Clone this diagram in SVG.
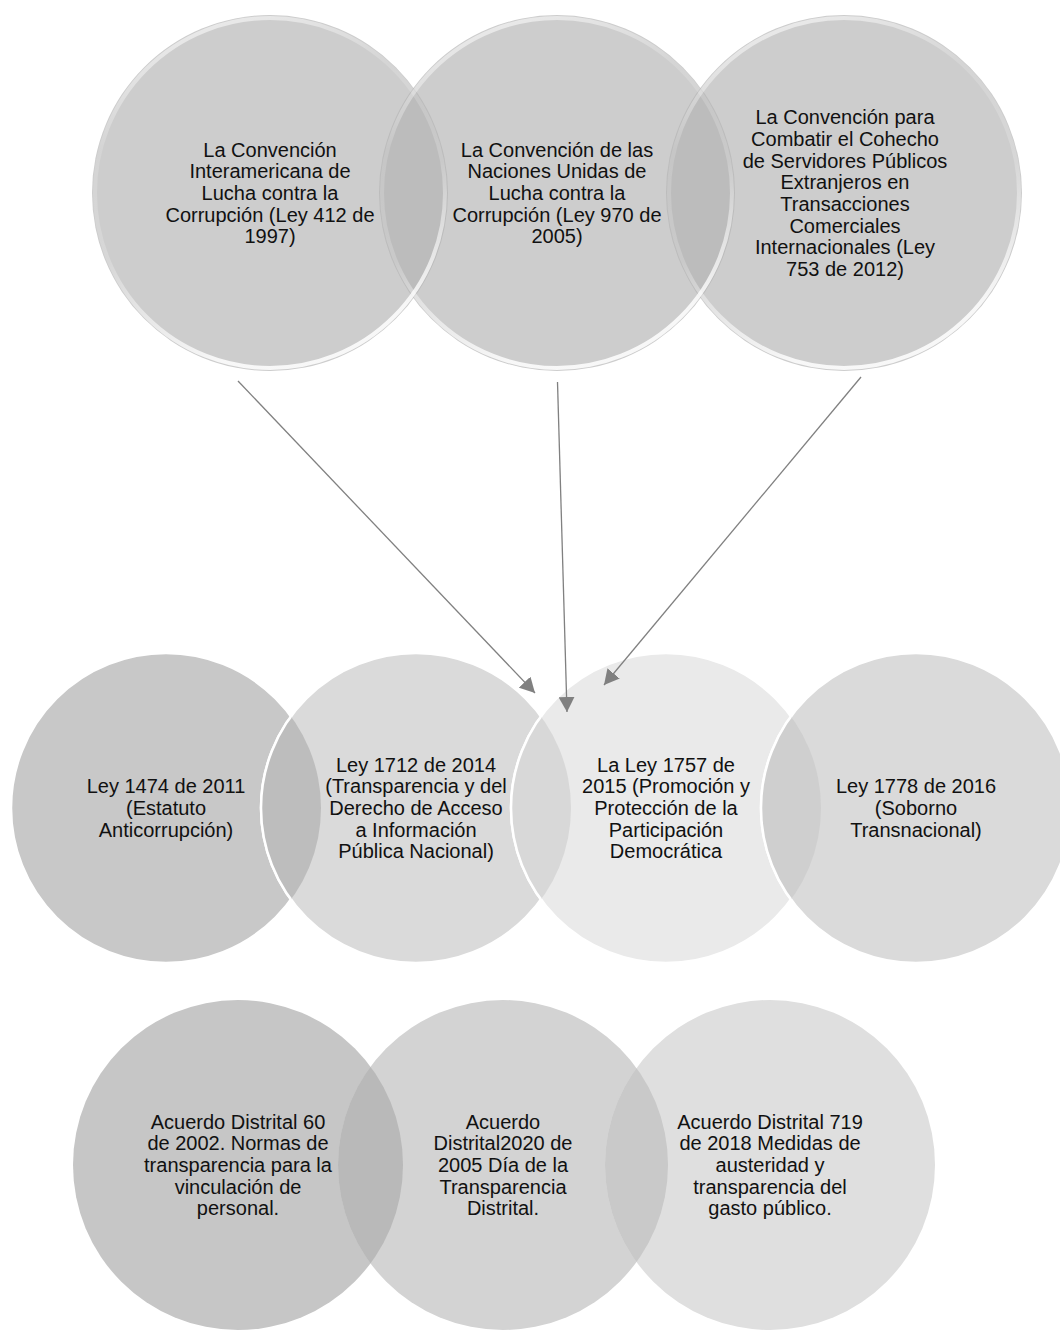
<svg xmlns="http://www.w3.org/2000/svg" width="1060" height="1338" viewBox="0 0 1060 1338">
  <style>
    text { font-family: "Liberation Sans", Arial, sans-serif; font-size: 20px; fill: #111; text-anchor: middle; }
    .top { fill: #cdcdcd; }
    .topLens { fill: #bcbcbc; }
    .rim { fill: none; stroke: url(#rimGrad); stroke-width: 4; }
    .mid { stroke: #ffffff; stroke-width: 2.5; }
    .conn { stroke: #808080; stroke-width: 1.3; fill: none; marker-end: url(#arrow); }
  </style>
  <defs>
    <linearGradient id="rimGrad" x1="0" y1="0" x2="0.3" y2="1">
      <stop offset="0" stop-color="#ffffff" stop-opacity="0.75"/>
      <stop offset="0.35" stop-color="#ffffff" stop-opacity="0.15"/>
      <stop offset="0.65" stop-color="#ffffff" stop-opacity="0.2"/>
      <stop offset="1" stop-color="#ffffff" stop-opacity="0.85"/>
    </linearGradient>
    <marker id="arrow" viewBox="0 0 15 16" refX="15" refY="8" markerWidth="15" markerHeight="16" markerUnits="userSpaceOnUse" orient="auto">
      <path d="M0,0 L15,8 L0,16 z" fill="#808080"/>
    </marker>
    <clipPath id="cT1"><circle cx="270" cy="193" r="178"/></clipPath>
    <clipPath id="cT2"><circle cx="557" cy="193" r="178"/></clipPath>
    <clipPath id="cM1"><circle cx="166" cy="808" r="155"/></clipPath>
    <clipPath id="cM2"><circle cx="416" cy="808" r="155"/></clipPath>
    <clipPath id="cM3"><circle cx="666" cy="808" r="155"/></clipPath>
    <clipPath id="cB1"><circle cx="238" cy="1165" r="165"/></clipPath>
    <clipPath id="cB2"><circle cx="503" cy="1165" r="165"/></clipPath>
  </defs>

  <!-- Top row -->
  <g id="top1">
    <circle class="top" cx="270" cy="193" r="178"/>
  </g>
  <g id="top2">
    <circle class="top" cx="557" cy="193" r="178"/>
    <circle class="topLens" cx="557" cy="193" r="178" clip-path="url(#cT1)"/>
  </g>
  <g id="top3">
    <circle class="top" cx="844" cy="193" r="178"/>
    <circle class="topLens" cx="844" cy="193" r="178" clip-path="url(#cT2)"/>
  </g>
  <g id="topRims">
    <circle class="rim" cx="270" cy="193" r="175"/>
    <circle class="rim" cx="557" cy="193" r="175"/>
    <circle class="rim" cx="844" cy="193" r="175"/>
  </g>
  <g id="top1-text">
    <text x="270" y="156.6">La Convención</text>
    <text x="270" y="178.3">Interamericana de</text>
    <text x="270" y="200">Lucha contra la</text>
    <text x="270" y="221.7">Corrupción (Ley 412 de</text>
    <text x="270" y="243.4">1997)</text>
  </g>
  <g id="top2-text">
    <text x="557" y="156.6">La Convención de las</text>
    <text x="557" y="178.3">Naciones Unidas de</text>
    <text x="557" y="200">Lucha contra la</text>
    <text x="557" y="221.7">Corrupción (Ley 970 de</text>
    <text x="557" y="243.4">2005)</text>
  </g>
  <g id="top3-text">
    <text x="845" y="124.1">La Convención para</text>
    <text x="845" y="145.8">Combatir el Cohecho</text>
    <text x="845" y="167.5">de Servidores Públicos</text>
    <text x="845" y="189.2">Extranjeros en</text>
    <text x="845" y="210.9">Transacciones</text>
    <text x="845" y="232.6">Comerciales</text>
    <text x="845" y="254.3">Internacionales (Ley</text>
    <text x="845" y="276">753 de 2012)</text>
  </g>

  <!-- Middle row -->
  <g id="mid1">
    <circle class="mid" cx="166" cy="808" r="155" fill="#c8c8c8"/>
    <text x="166" y="793.3">Ley 1474 de 2011</text>
    <text x="166" y="815">(Estatuto</text>
    <text x="166" y="836.7">Anticorrupción)</text>
  </g>
  <g id="mid2">
    <circle class="mid" cx="416" cy="808" r="155" fill="#dadada"/>
    <circle class="mid" cx="416" cy="808" r="155" fill="#bdbdbd" clip-path="url(#cM1)"/>
    <text x="416" y="771.6">Ley 1712 de 2014</text>
    <text x="416" y="793.3">(Transparencia y del</text>
    <text x="416" y="815">Derecho de Acceso</text>
    <text x="416" y="836.7">a Información</text>
    <text x="416" y="858.4">Pública Nacional)</text>
  </g>
  <g id="mid3">
    <circle class="mid" cx="666" cy="808" r="155" fill="#eaeaea"/>
    <circle class="mid" cx="666" cy="808" r="155" fill="#d8d8d8" clip-path="url(#cM2)"/>
    <text x="666" y="771.6">La Ley 1757 de</text>
    <text x="666" y="793.3">2015 (Promoción y</text>
    <text x="666" y="815">Protección de la</text>
    <text x="666" y="836.7">Participación</text>
    <text x="666" y="858.4">Democrática</text>
  </g>
  <g id="mid4">
    <circle class="mid" cx="916" cy="808" r="155" fill="#dadada"/>
    <circle class="mid" cx="916" cy="808" r="155" fill="#cfcfcf" clip-path="url(#cM3)"/>
    <text x="916" y="793.3">Ley 1778 de 2016</text>
    <text x="916" y="815">(Soborno</text>
    <text x="916" y="836.7">Transnacional)</text>
  </g>

  <!-- Bottom row -->
  <g id="bot1">
    <circle cx="238" cy="1165" r="165" fill="#c6c6c6"/>
  </g>
  <g id="bot2">
    <circle cx="503" cy="1165" r="165" fill="#d3d3d3"/>
    <circle cx="503" cy="1165" r="165" fill="#b9b9b9" clip-path="url(#cB1)"/>
  </g>
  <g id="bot3">
    <circle cx="770" cy="1165" r="165" fill="#dfdfdf"/>
    <circle cx="770" cy="1165" r="165" fill="#c9c9c9" clip-path="url(#cB2)"/>
  </g>
  <g id="bot1-text">
    <text x="238" y="1128.6">Acuerdo Distrital 60</text>
    <text x="238" y="1150.3">de 2002. Normas de</text>
    <text x="238" y="1172">transparencia para la</text>
    <text x="238" y="1193.7">vinculación de</text>
    <text x="238" y="1215.4">personal.</text>
  </g>
  <g id="bot2-text">
    <text x="503" y="1128.6">Acuerdo</text>
    <text x="503" y="1150.3">Distrital2020 de</text>
    <text x="503" y="1172">2005 Día de la</text>
    <text x="503" y="1193.7">Transparencia</text>
    <text x="503" y="1215.4">Distrital.</text>
  </g>
  <g id="bot3-text">
    <text x="770" y="1128.6">Acuerdo Distrital 719</text>
    <text x="770" y="1150.3">de 2018 Medidas de</text>
    <text x="770" y="1172">austeridad y</text>
    <text x="770" y="1193.7">transparencia del</text>
    <text x="770" y="1215.4">gasto público.</text>
  </g>

  <!-- Connectors -->
  <g id="connectors">
    <line class="conn" x1="238" y1="381" x2="535" y2="693"/>
    <line class="conn" x1="557.5" y1="382" x2="567" y2="712"/>
    <line class="conn" x1="861" y1="377" x2="604" y2="685"/>
  </g>
</svg>
